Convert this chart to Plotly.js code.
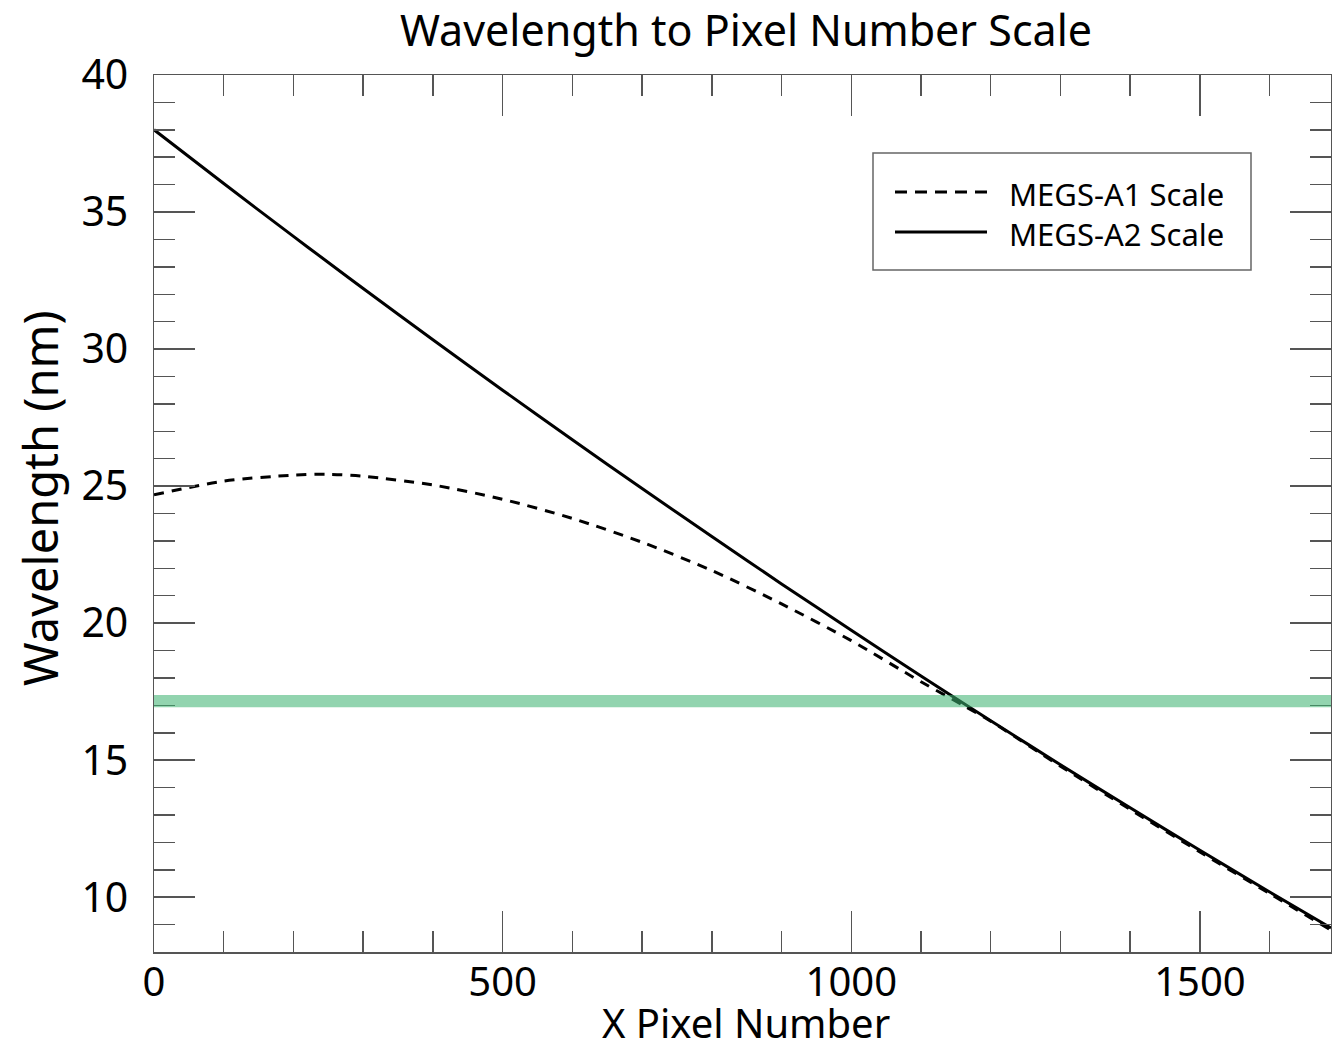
<!DOCTYPE html>
<html>
<head>
<meta charset="utf-8">
<script src="https://cdn.plot.ly/plotly-3.0.1.min.js"></script>
<style>
  html, body { margin: 0; padding: 0; background: #fff; }
  #chart { width: 1332px; height: 1050px; }
</style>
</head>
<body>
<div id="chart"></div>
<script>
// ---- data ----
const pixelX = [0, 100, 200, 250, 300, 400, 500, 600, 700, 800, 900, 1000, 1100, 1159, 1200, 1300, 1400, 1500, 1600, 1688];
const megsA1Scale = [24.68, 25.18, 25.40, 25.43, 25.36, 25.04, 24.52, 23.82, 22.95, 21.92, 20.70, 19.36, 17.86, 17.02, 16.42, 14.78, 13.20, 11.65, 10.13, 8.80];
const megsA2Scale = [38.00, 36.04, 34.11, 33.16, 32.21, 30.34, 28.50, 26.69, 24.91, 23.16, 21.43, 19.74, 18.07, 17.10, 16.44, 14.83, 13.26, 11.71, 10.19, 8.88];
const seriesNames = ["MEGS-A1 Scale", "MEGS-A2 Scale"];
const bandLow = 16.93;
const bandHigh = 17.38;
const xTickVals = [0, 500, 1000, 1500];
const yTickVals = [10, 15, 20, 25, 30, 35, 40];
const titleText = "Wavelength to Pixel Number Scale";
const xTitleText = "X Pixel Number";
const yTitleText = "Wavelength (nm)";

const FONT = "Noto Sans, sans-serif";
const axisColor = "#555555";

const traces = [
  { x: pixelX, y: megsA1Scale, name: seriesNames[0], mode: "lines",
    line: { color: "#000", width: 3, dash: "10px,8px", shape: "spline", smoothing: 0.8 }, showlegend: false },
  { x: pixelX, y: megsA2Scale, name: seriesNames[1], mode: "lines",
    line: { color: "#000", width: 3, shape: "spline", smoothing: 0.8 }, showlegend: false }
];

// paper-coordinate helpers for legend / titles
const L = 154, R = 1331, T = 75, B = 952;
const px = v => (v - L) / (R - L);
const py = v => (B - v) / (B - T);

const layout = {
  width: 1332, height: 1050,
  margin: { l: L, r: 1332 - R, t: T, b: 1050 - B },
  paper_bgcolor: "#fff", plot_bgcolor: "#fff",
  font: { family: FONT, color: "#000" },
  title: { text: titleText, font: { family: FONT, size: 43, color: "#000" },
           x: 746 / 1332, xanchor: "center", xref: "container", y: 1 - 31 / 1050, yref: "container", yanchor: "middle" },
  xaxis: {
    range: [0, 1688], showgrid: false, zeroline: false,
    showline: true, linecolor: axisColor, linewidth: 1.5, mirror: "allticks",
    ticks: "inside", ticklen: 41, tickwidth: 1.5, tickcolor: axisColor,
    tickmode: "array", tickvals: xTickVals,
    minor: { dtick: 100, ticks: "inside", ticklen: 21, tickwidth: 1.5, tickcolor: axisColor, showgrid: false },
    tickfont: { family: FONT, size: 40, color: "#000" }, ticklabelstandoff: -6
  },
  yaxis: {
    range: [8, 40], showgrid: false, zeroline: false,
    showline: true, linecolor: axisColor, linewidth: 1.5, mirror: "allticks",
    ticks: "inside", ticklen: 41, tickwidth: 1.5, tickcolor: axisColor,
    tickmode: "array", tickvals: yTickVals,
    minor: { dtick: 1, ticks: "inside", ticklen: 21, tickwidth: 1.5, tickcolor: axisColor, showgrid: false },
    tickfont: { family: FONT, size: 41, color: "#000" }, ticklabelstandoff: 16
  },
  shapes: [
    { type: "rect", xref: "x domain", yref: "y", x0: 0, x1: 1, y0: bandLow, y1: bandHigh,
      fillcolor: "rgb(60,179,113)", opacity: 0.56, line: { width: 0 }, layer: "above" },
    // legend frame and samples
    { type: "rect", xref: "paper", yref: "paper", x0: px(873), x1: px(1251), y0: py(270), y1: py(153),
      line: { color: "#666", width: 1.5 }, fillcolor: "rgba(255,255,255,0)", layer: "above" },
    { type: "line", xref: "paper", yref: "paper", x0: px(895), x1: px(987), y0: py(192), y1: py(192),
      line: { color: "#000", width: 3, dash: "12px,8px" } },
    { type: "line", xref: "paper", yref: "paper", x0: px(895), x1: px(987), y0: py(232), y1: py(232),
      line: { color: "#000", width: 3 } }
  ],
  annotations: [
    { text: seriesNames[0], xref: "paper", yref: "paper", x: px(1007), y: py(194), xanchor: "left", yanchor: "middle",
      showarrow: false, font: { family: FONT, size: 31, color: "#000" } },
    { text: seriesNames[1], xref: "paper", yref: "paper", x: px(1007), y: py(234), xanchor: "left", yanchor: "middle",
      showarrow: false, font: { family: FONT, size: 31, color: "#000" } },
    { text: xTitleText, xref: "paper", yref: "paper", x: px(746), y: py(1022), xanchor: "center", yanchor: "middle",
      showarrow: false, font: { family: FONT, size: 40, color: "#000" } },
    { text: yTitleText, xref: "paper", yref: "paper", x: px(40), y: py(498), xanchor: "center", yanchor: "middle",
      textangle: -90, showarrow: false, font: { family: FONT, size: 47, color: "#000" } }
  ],
  showlegend: false
};

Plotly.newPlot("chart", traces, layout, { staticPlot: true, displayModeBar: false });
</script>
</body>
</html>
